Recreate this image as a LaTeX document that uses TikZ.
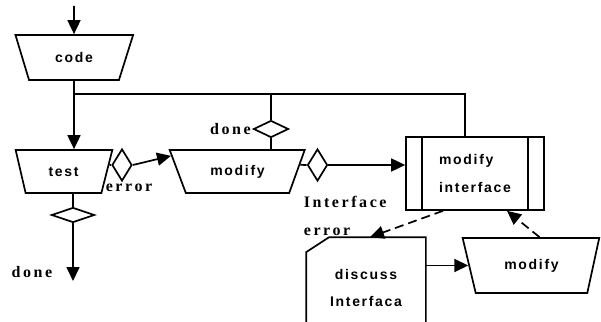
\documentclass[tikz,border=0pt]{standalone}
\usepackage{fontspec}
\usetikzlibrary{shapes.geometric,arrows.meta,calc}
\newfontfamily\boxfont[LetterSpace=12]{Liberation Sans}
\newfontfamily\tagfont[LetterSpace=16]{Liberation Serif}
\tikzset{
  blk/.style={draw, trapezium, trapezium stretches=true, inner sep=0pt,
    font=\boxfont\bfseries\fontsize{14}{28}\selectfont},
  gate/.style={draw, diamond, inner sep=0pt, fill=white},
  tag/.style={inner sep=0pt, font=\tagfont\bfseries\fontsize{16}{28}\selectfont},
  dashflow/.style={->, dash pattern=on 9pt off 5pt},
}
\begin{document}
\begin{tikzpicture}[x=1pt, y=-1pt, line width=1.7pt, >={Triangle[width=13pt,length=14pt]}]
            \clip (0,0) rectangle (601,321);
            \node[blk, trapezium left angle=119, trapezium right angle=120, minimum width=118pt, minimum height=45pt] (code) at (74,57.5) {code};
            \node[blk, trapezium left angle=113, trapezium right angle=115, minimum width=97pt, minimum height=43pt] (test) at (63.5,171.5) {test};
            \node[blk, trapezium left angle=123, trapezium right angle=122, minimum width=135pt, minimum height=43pt] (mod) at (237.5,171.5) {modify};
            \node[blk, trapezium left angle=116, trapezium right angle=114, minimum width=137pt, minimum height=55pt] (mod2) at (531.5,265.5) {modify};
            \node[draw, minimum width=138pt, minimum height=73pt, align=left, font=\boxfont\bfseries\fontsize{14}{28}\selectfont] (mi) at (475,173.5) {modify\\interface};
            \node[minimum width=118pt, minimum height=100pt, align=center, font=\boxfont\bfseries\fontsize{14}{27}\selectfont] (disc) at (366,288) {discuss\\Interfaca};
            \node[gate, minimum width=20pt, minimum height=32pt] (de) at (122,165) {};
            \node[gate, minimum width=20pt, minimum height=32pt] (dm) at (317.5,165) {};
            \node[gate, minimum width=35pt, minimum height=17pt] (dd) at (271,129) {};
            \node[gate, minimum width=43pt, minimum height=15pt] (dt) at (73,215) {};
            \coordinate (in) at (74,6);
            \coordinate (br) at (74,94);
            \coordinate (out) at (73,281);
            % labels
            \node[tag, anchor=east] (donetop) at ([xshift=-1pt]dd.west) {done};
            \node[tag] (errtag) at (129,188) {error};
            \node[tag, align=left, anchor=west] (ietag) at (303,216) {Interface\\error};
            \node[tag, anchor=east] (donebot) at (53,272) {done};
            % box sides
            \draw ([xshift=17pt]mi.north west) -- ([xshift=17pt]mi.south west)
                  ([xshift=-17pt]mi.north east) -- ([xshift=-17pt]mi.south east);
            \draw ([xshift=23pt]disc.north west) -- (disc.north east) -- (disc.south east)
                  (disc.south west) -- ([yshift=-15pt]disc.north west) -- ([xshift=23pt]disc.north west);
            % flows
            \draw[->] (in) -- (code.north);
            \draw[->] (code.south) -- (code.south |- test.north);
            \draw (br) -| ([xshift=-10pt]mi.north);
            \draw (br -| dd.north) -- (dd.north) (dd.south) -- (dd.south |- mod.north);
            \draw ($(test.top right corner)!.35!(test.bottom right corner)$) -- (de.west);
            \draw[->] (de.east) -- ($(mod.top left corner)!.15!(mod.bottom left corner)$);
            \draw ($(mod.top right corner)!.35!(mod.bottom right corner)$) -- (dm.west);
            \draw[->] (dm.east) -- (dm.east -| mi.west);
            \draw (out |- test.south) -- (dt.north);
            \draw[->] (dt.south) -- (out);
            \draw[dashflow] ([xshift=-32pt]mi.south) -- ([xshift=4pt]disc.north);
            \draw[dashflow] ([xshift=8pt]mod2.north) -- ([xshift=32pt]mi.south);
            \draw[->] (disc.east |- mod2.west) -- (mod2.west);
\end{tikzpicture}
\end{document}
